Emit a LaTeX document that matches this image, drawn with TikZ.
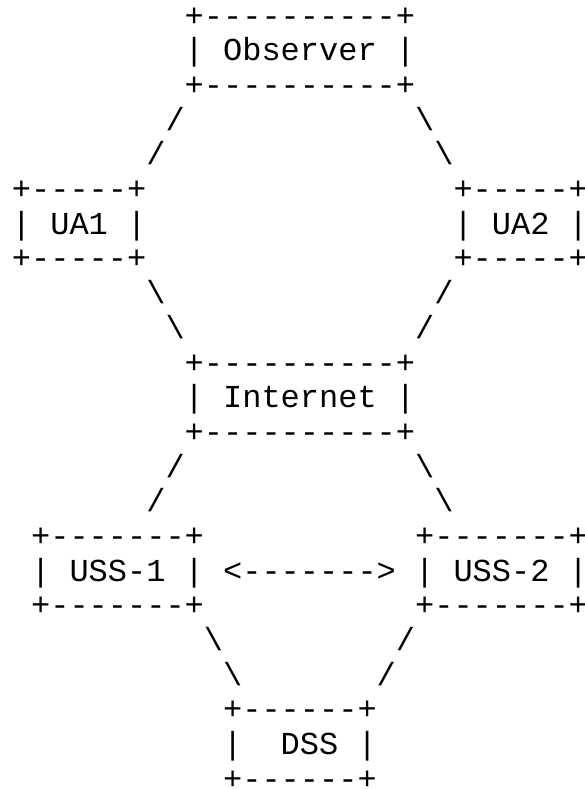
\documentclass[tikz,border=0pt]{standalone}
\usepackage{fontspec}
\setmonofont{Liberation Mono}
\newcommand\asctxt[4]{\node[asc] (#1) at ({#2*19.2pt+11.9pt},{-(26.3pt+(#3-1)*34.67pt)}) {#4};}
\tikzset{asc/.style={font=\ttfamily\fontsize{32}{34.67}\selectfont, text=black, inner sep=0pt, outer sep=0pt, anchor=base west}}
\begin{document}
\begin{tikzpicture}
\fill[white] (0,0) rectangle (585pt,-789pt);
\useasboundingbox (0,0) rectangle (585pt,-789pt);
% Observer
\asctxt{obsT}{9}{1}{+----------+}
\asctxt{obsM}{9}{2}{| Observer |}
\asctxt{obsB}{9}{3}{+----------+}
\asctxt{l4a}{8}{4}{/}
\asctxt{l4b}{21}{4}{\textbackslash}
\asctxt{l5a}{7}{5}{/}
\asctxt{l5b}{22}{5}{\textbackslash}
% UA1 / UA2
\asctxt{ua1T}{0}{6}{+-----+}
\asctxt{ua1M}{0}{7}{| UA1 |}
\asctxt{ua1B}{0}{8}{+-----+}
\asctxt{ua2T}{23}{6}{+-----+}
\asctxt{ua2M}{23}{7}{| UA2 |}
\asctxt{ua2B}{23}{8}{+-----+}
\asctxt{l9a}{7}{9}{\textbackslash}
\asctxt{l9b}{22}{9}{/}
\asctxt{l10a}{8}{10}{\textbackslash}
\asctxt{l10b}{21}{10}{/}
% Internet
\asctxt{netT}{9}{11}{+----------+}
\asctxt{netM}{9}{12}{| Internet |}
\asctxt{netB}{9}{13}{+----------+}
\asctxt{l14a}{8}{14}{/}
\asctxt{l14b}{21}{14}{\textbackslash}
\asctxt{l15a}{7}{15}{/}
\asctxt{l15b}{22}{15}{\textbackslash}
% USS-1 / USS-2
\asctxt{uss1T}{1}{16}{+-------+}
\asctxt{uss1M}{1}{17}{| USS-1 |}
\asctxt{uss1B}{1}{18}{+-------+}
\asctxt{arr}{11}{17}{<------->}
\asctxt{uss2T}{21}{16}{+-------+}
\asctxt{uss2M}{21}{17}{| USS-2 |}
\asctxt{uss2B}{21}{18}{+-------+}
\asctxt{l19a}{10}{19}{\textbackslash}
\asctxt{l19b}{20}{19}{/}
\asctxt{l20a}{11}{20}{\textbackslash}
\asctxt{l20b}{19}{20}{/}
% DSS
\asctxt{dssT}{11}{21}{+------+}
\asctxt{dssM}{11}{22}{|~~DSS |}
\asctxt{dssB}{11}{23}{+------+}
\end{tikzpicture}
\end{document}
